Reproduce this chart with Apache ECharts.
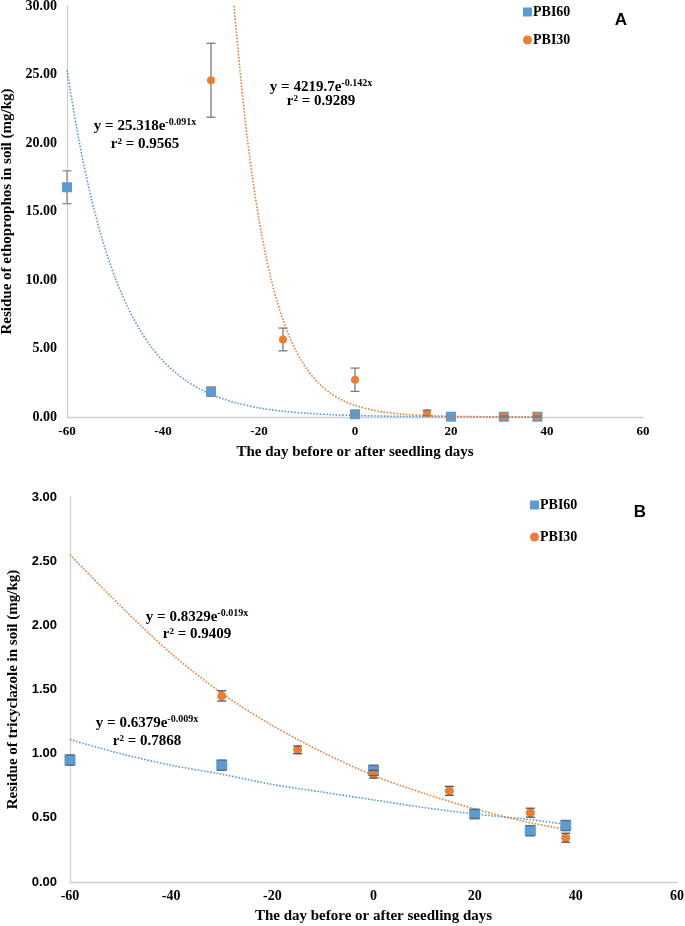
<!DOCTYPE html>
<html>
<head>
<meta charset="utf-8">
<script src="https://cdn.jsdelivr.net/npm/echarts@6/dist/echarts.min.js"></script>
<style>html,body{margin:0;padding:0;background:#fff}#c{width:685px;height:926px}</style>
</head>
<body>
<div id="c"></div>
<script>
// ---------- Data: panel A (ethoprophos) ----------
const xTicks = [-60, -40, -20, 0, 20, 40, 60];
const xA60 = [-60, -30, 0, 20, 31, 38];
const yA60 = [16.77, 1.85, 0.2, 0.02, 0.02, 0.02];
const eA60 = [1.2, 0.35, 0.12, 0.05, 0.05, 0.05];
const xA30 = [-30, -15, 0, 15, 31, 38];
const yA30 = [24.58, 5.66, 2.72, 0.29, 0.03, 0.03];
const eA30 = [2.7, 0.83, 0.85, 0.2, 0.04, 0.04];
const trendA60x = [-60, -57.5, -55, -52.5, -50, -47.5, -45, -42.5, -40, -37.5, -35, -32.5, -30, -27.5, -25, -20, -15, -10, -5, 0, 10, 20, 30, 38];
const trendA60y = [25.32, 20.17, 16.06, 12.79, 10.19, 8.12, 6.47, 5.15, 4.10, 3.27, 2.60, 2.07, 1.65, 1.32, 1.05, 0.66, 0.42, 0.27, 0.17, 0.11, 0.04, 0.02, 0.01, 0.00];
const trendA30x = [-25.2, -23.75, -22.5, -21.25, -20, -18.75, -17.5, -16.25, -15, -13.75, -12.5, -11.25, -10, -8.75, -7.5, -5, -2.5, 0, 5, 10, 15, 20, 30, 38];
const trendA30y = [30, 24.53, 20.53, 17.20, 14.41, 12.06, 10.10, 8.46, 7.08, 5.93, 4.97, 4.16, 3.48, 2.92, 2.44, 1.71, 1.20, 0.84, 0.41, 0.20, 0.10, 0.05, 0.01, 0.00];

// ---------- Data: panel B (tricyclazole) ----------
const xB60 = [-60, -30, 0, 20, 31, 38];
const yB60 = [0.95, 0.91, 0.87, 0.53, 0.40, 0.44];
const eB60 = [0.04, 0.04, 0.04, 0.035, 0.04, 0.04];
const xB30 = [-30, -15, 0, 15, 31, 38];
const yB30 = [1.45, 1.03, 0.84, 0.71, 0.54, 0.345];
const eB30 = [0.04, 0.03, 0.03, 0.035, 0.035, 0.035];
const trendBx = [-60, -50, -40, -30, -20, -10, 0, 10, 20, 30, 38];
const trendB30y = [2.55, 2.15, 1.78, 1.47, 1.22, 1.01, 0.83, 0.69, 0.57, 0.47, 0.41];
const trendB60y = [1.11, 1.00, 0.91, 0.84, 0.76, 0.70, 0.64, 0.58, 0.53, 0.49, 0.45];

// ---------- Texts ----------
const seriesNames = ['PBI60', 'PBI30'];
const xTitle = 'The day before or after seedling days';
const yTitleA = 'Residue of ethoprophos in soil (mg/kg)';
const yTitleB = 'Residue of tricyclazole in soil (mg/kg)';
const eqA60 = ['y = 25.318e{s|-0.091x}', 'r² = 0.9565'];
const eqA30 = ['y = 4219.7e{s|-0.142x}', 'r² = 0.9289'];
const eqB30 = ['y = 0.8329e{s|-0.019x}', 'r² = 0.9409'];
const eqB60 = ['y = 0.6379e{s|-0.009x}', 'r² = 0.7868'];
const panelLabels = ['A', 'B'];

const BLUE = '#5B9BD5', ORANGE = '#ED7D31';
const SERIF = '"Liberation Serif", "Times New Roman", serif';
const SANS = '"Liberation Sans", Arial, sans-serif';

const pts = (xs, ys) => xs.map((x, i) => [x, ys[i]]);
const errs = (xs, ys, es) => xs.map((x, i) => [x, ys[i] - es[i], ys[i] + es[i]]);

function stemRender(color) {
  return function (params, api) {
    const a = api.coord([api.value(0), api.value(1)]);
    const b = api.coord([api.value(0), api.value(2)]);
    return { type: 'line', shape: { x1: a[0], y1: a[1], x2: b[0], y2: b[1] }, style: { stroke: color, lineWidth: 1.3 } };
  };
}
function capRender(color) {
  return function (params, api) {
    const a = api.coord([api.value(0), api.value(1)]);
    const b = api.coord([api.value(0), api.value(2)]);
    const w = 4.5;
    return { type: 'group', children: [
      { type: 'line', shape: { x1: a[0] - w, y1: a[1], x2: a[0] + w, y2: a[1] }, style: { stroke: color, lineWidth: 1.3 } },
      { type: 'line', shape: { x1: b[0] - w, y1: b[1], x2: b[0] + w, y2: b[1] }, style: { stroke: color, lineWidth: 1.3 } }
    ] };
  };
}
function errSeries(idx, data, color) {
  return [
    { type: 'custom', xAxisIndex: idx, yAxisIndex: idx, data: data, encode: { x: 0, y: [1, 2] }, renderItem: stemRender(color), z: 1, silent: true },
    { type: 'custom', xAxisIndex: idx, yAxisIndex: idx, data: data, encode: { x: 0, y: [1, 2] }, renderItem: capRender(color), z: 6, silent: true }
  ];
}
function trend(idx, name, data, color) {
  return { type: 'line', name: name, xAxisIndex: idx, yAxisIndex: idx, data: data, smooth: 0.3,
    showSymbol: false, lineStyle: { color: color, width: 1.6, type: 'dotted' }, z: 2, silent: true };
}
function scatter(idx, name, data, color, sym, size) {
  return { type: 'scatter', name: name, xAxisIndex: idx, yAxisIndex: idx, data: data, symbol: sym, symbolSize: size,
    itemStyle: { color: color, opacity: 1 }, z: 4 };
}
function eqText(lines, cx, y1, y2) {
  const rich = { s: { fontSize: 10, fontWeight: 'bold', fontFamily: SERIF, fill: '#000', verticalAlign: 'top', padding: [0, 0, 8, 0] } };
  return [
    { type: 'text', x: cx, y: y1, style: { text: lines[0], rich: rich, font: 'bold 15px ' + SERIF, fill: '#000', align: 'center', verticalAlign: 'middle' } },
    { type: 'text', x: cx, y: y2, style: { text: lines[1], font: 'bold 15px ' + SERIF, fill: '#000', align: 'center', verticalAlign: 'middle' } }
  ];
}
function xAxisCfg(idx, fontSize, margin) {
  return { type: 'value', gridIndex: idx, min: xTicks[0], max: xTicks[xTicks.length - 1], interval: xTicks[1] - xTicks[0],
    name: xTitle, nameLocation: 'middle', nameGap: idx === 0 ? 28 : 27,
    nameTextStyle: { fontFamily: SERIF, fontWeight: 'bold', fontSize: 15, color: '#000' },
    axisLine: { show: true, onZero: false, lineStyle: { color: '#d0d0d0', width: 1.3 } },
    axisTick: { show: false }, splitLine: { show: false },
    axisLabel: { fontFamily: SERIF, fontWeight: 'bold', fontSize: fontSize, color: '#000', margin: margin } };
}
function yAxisCfg(idx, max, interval, title, labelFont, labelSize, gap, margin) {
  return { type: 'value', gridIndex: idx, min: 0, max: max, interval: interval,
    name: title, nameLocation: 'middle', nameGap: gap,
    nameTextStyle: { fontFamily: SERIF, fontWeight: 'bold', fontSize: 15, color: '#000' },
    axisLine: { show: true, onZero: false, lineStyle: { color: '#d0d0d0', width: 1.3 } },
    axisTick: { show: false }, splitLine: { show: false },
    axisLabel: { formatter: v => v.toFixed(2), fontFamily: labelFont, fontWeight: 'bold', fontSize: labelSize, color: '#000', margin: margin } };
}
function legendCfg(left, top, gap) {
  return { orient: 'vertical', left: left, top: top, itemGap: gap, itemWidth: 9, itemHeight: 9,
    data: [{ name: seriesNames[0], icon: 'rect' }, { name: seriesNames[1], icon: 'circle' }],
    textStyle: { fontFamily: SERIF, fontWeight: 'bold', fontSize: 14, color: '#000', padding: [0, 0, 0, -4] } };
}

const chart = echarts.init(document.getElementById('c'), null, { renderer: 'canvas' });
chart.setOption({
  animation: false,
  backgroundColor: '#fff',
  grid: [
    { left: 67, right: 42, top: 6, height: 411, containLabel: false, outerBoundsMode: 'none' },
    { left: 70, right: 8, top: 497, height: 385, containLabel: false, outerBoundsMode: 'none' }
  ],
  xAxis: [xAxisCfg(0, 13, 8), xAxisCfg(1, 14, 7)],
  yAxis: [yAxisCfg(0, 30, 5, yTitleA, SERIF, 14, 42, 10), yAxisCfg(1, 3, 0.5, yTitleB, SANS, 13, 42, 13)],
  legend: [legendCfg(518, 0, 14), legendCfg(525, 493, 18)],
  series: [
    trend(0, 'tA60', pts(trendA60x, trendA60y), BLUE),
    trend(0, 'tA30', pts(trendA30x, trendA30y), ORANGE),
    ...errSeries(0, errs(xA60, yA60, eA60), '#8c8c8c'),
    ...errSeries(0, errs(xA30, yA30, eA30), '#7a7a7a'),
    scatter(0, seriesNames[0], pts(xA60, yA60), BLUE, 'rect', 10),
    scatter(0, seriesNames[1], pts(xA30, yA30), ORANGE, 'circle', 8),
    trend(1, 'tB60', pts(trendBx, trendB60y), BLUE),
    trend(1, 'tB30', pts(trendBx, trendB30y), ORANGE),
    ...errSeries(1, errs(xB60, yB60, eB60), '#666'),
    ...errSeries(1, errs(xB30, yB30, eB30), '#555'),
    scatter(1, seriesNames[0], pts(xB60, yB60), BLUE, 'rect', 11),
    scatter(1, seriesNames[1], pts(xB30, yB30), ORANGE, 'circle', 9)
  ],
  graphic: [
    ...eqText(eqA60, 145, 126, 144),
    ...eqText(eqA30, 321, 87, 101),
    ...eqText(eqB30, 197, 617, 634),
    ...eqText(eqB60, 147, 723, 741),
    { type: 'text', x: 621, y: 20, style: { text: panelLabels[0], font: 'bold 17px ' + SANS, fill: '#000', align: 'center', verticalAlign: 'middle' } },
    { type: 'text', x: 640, y: 512, style: { text: panelLabels[1], font: 'bold 17px ' + SANS, fill: '#000', align: 'center', verticalAlign: 'middle' } }
  ]
});
</script>
</body>
</html>
